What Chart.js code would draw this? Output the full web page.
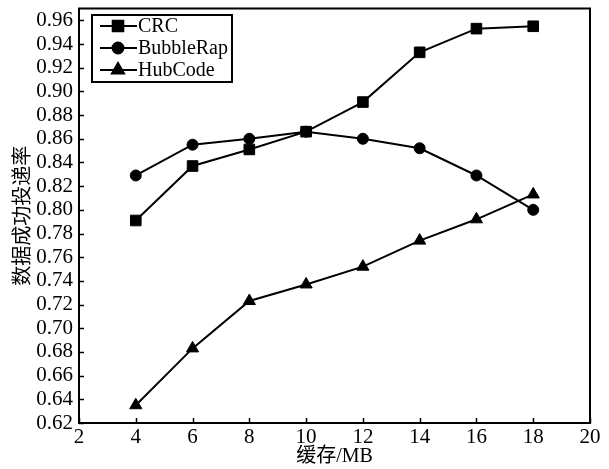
<!DOCTYPE html>
<html>
<head>
<meta charset="utf-8">
<script src="https://cdn.jsdelivr.net/npm/chart.js@4/dist/chart.umd.min.js"></script>
<style>
  body { margin: 0; background: #fff; }
  #wrap { width: 609px; height: 469px; }
</style>
</head>
<body>
<div id="wrap"><canvas id="myChart" width="609" height="469"></canvas></div>
<script>
// Define the data
var buffers = [4, 6, 8, 10, 12, 14, 16, 18]; // 缓存/MB
var crc = [0.791, 0.837, 0.851, 0.866, 0.891, 0.933, 0.953, 0.955];
var bubbleRap = [0.829, 0.855, 0.860, 0.866, 0.860, 0.852, 0.829, 0.800];
var hubCode = [0.635, 0.683, 0.723, 0.737, 0.752, 0.774, 0.792, 0.813];
var seriesNames = ['CRC', 'BubbleRap', 'HubCode'];
var markerStyles = ['rect', 'circle', 'triangle'];
var markerSizes = [7.5, 5.5, 7];
var xTicks = [2, 4, 6, 8, 10, 12, 14, 16, 18, 20];
var yTicks = [0.62, 0.64, 0.66, 0.68, 0.70, 0.72, 0.74, 0.76, 0.78, 0.80, 0.82, 0.84, 0.86, 0.88, 0.90, 0.92, 0.94, 0.96];
// End defining data

var serif = "'Liberation Serif', 'Times New Roman', serif";
var cjk = "'Liberation Serif', 'Noto Sans CJK SC', serif";

function pts(vals) {
  return buffers.map(function (b, i) { return { x: b, y: vals[i] }; });
}

var allSeries = [crc, bubbleRap, hubCode];
var datasets = allSeries.map(function (vals, i) {
  return {
    label: seriesNames[i],
    data: pts(vals),
    borderColor: '#000',
    backgroundColor: '#000',
    borderWidth: 2,
    pointStyle: markerStyles[i],
    pointRadius: markerSizes[i],
    pointBorderWidth: 1,
    tension: 0
  };
});

// frame, inward ticks and legend box
var framePlugin = {
  id: 'frame',
  afterDraw: function (chart) {
    var c = chart.ctx, a = chart.chartArea;
    var xs = chart.scales.x, ys = chart.scales.y;
    c.save();
    c.strokeStyle = '#000';
    c.lineWidth = 2;
    c.strokeRect(a.left, a.top, a.right - a.left, a.bottom - a.top);
    c.lineWidth = 1.5;
    c.beginPath();
    xTicks.forEach(function (v) {
      var px = Math.round(xs.getPixelForValue(v)) + 0.5;
      c.moveTo(px, a.bottom); c.lineTo(px, a.bottom - 5);
    });
    yTicks.forEach(function (v) {
      var py = Math.round(ys.getPixelForValue(v)) + 0.5;
      c.moveTo(a.left, py); c.lineTo(a.left + 5, py);
    });
    c.stroke();

    // legend
    var lx = 92, ly = 15, lw = 140, lh = 67;
    c.lineWidth = 2;
    c.strokeRect(lx, ly, lw, lh);
    c.font = '20px ' + serif;
    c.fillStyle = '#000';
    c.textBaseline = 'middle';
    seriesNames.forEach(function (name, i) {
      var y = ly + 11 + i * 22;
      c.beginPath();
      c.lineWidth = 2;
      c.moveTo(lx + 8, y); c.lineTo(lx + 45, y);
      c.stroke();
      Chart.helpers.drawPoint(c, { pointStyle: markerStyles[i], radius: markerSizes[i], borderWidth: 1 }, lx + 26, y);
      c.fillStyle = '#000';
      c.fillText(name, lx + 46, y + 1);
    });
    c.restore();
  }
};

var ctx = document.getElementById('myChart').getContext('2d');
var myChart = new Chart(ctx, {
  type: 'line',
  data: { datasets: datasets },
  options: {
    responsive: false,
    animation: false,
    layout: { padding: { top: 6, right: 19, left: 0, bottom: 0 } },
    plugins: { legend: { display: false }, tooltip: { enabled: false } },
    scales: {
      x: {
        type: 'linear',
        min: 2,
        max: 20,
        grid: { display: false, drawTicks: false },
        border: { display: false },
        afterBuildTicks: function (s) { s.ticks = xTicks.map(function (v) { return { value: v }; }); },
        afterFit: function (s) { s.height = 46; s.paddingLeft = 0; s.paddingRight = 0; },
        ticks: {
          color: '#000',
          padding: 2,
          maxRotation: 0,
          autoSkip: false,
          font: { family: serif, size: 21 },
          callback: function (v) { return String(v); }
        },
        title: {
          display: true,
          text: '缓存/MB',
          color: '#000',
          padding: { top: -7, bottom: 0 },
          font: { family: cjk, size: 20 }
        }
      },
      y: {
        type: 'linear',
        min: 0.62,
        max: 0.97,
        grid: { display: false, drawTicks: false },
        border: { display: false },
        afterBuildTicks: function (s) { s.ticks = yTicks.map(function (v) { return { value: v }; }); },
        afterFit: function (s) { s.width = 79; s.paddingTop = 0; s.paddingBottom = 0; },
        ticks: {
          color: '#000',
          padding: 6,
          autoSkip: false,
          font: { family: serif, size: 21 },
          callback: function (v) { return v.toFixed(2); }
        },
        title: {
          display: true,
          text: '数据成功投递率',
          color: '#000',
          padding: { top: 12, bottom: 0 },
          font: { family: cjk, size: 20 }
        }
      }
    }
  },
  plugins: [framePlugin]
});
</script>
</body>
</html>
